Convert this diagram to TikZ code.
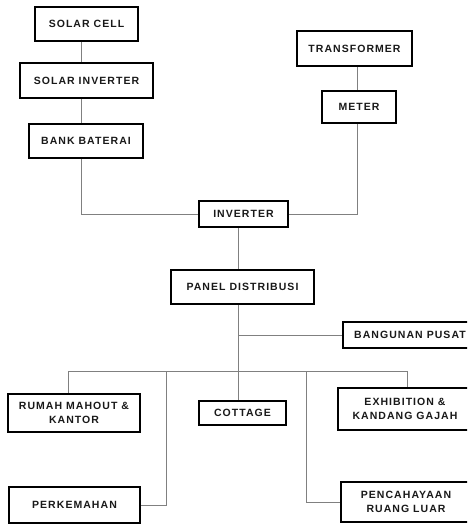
\documentclass[tikz,border=0pt]{standalone}
\usepackage{fontspec}
\newfontfamily\boxfont{Liberation Sans}[LetterSpace=10]
\tikzset{
    unit/.style={draw=black, line width=1.5pt, fill=white, inner sep=0pt, align=center,
        font=\boxfont\bfseries\fontsize{10.5}{14}\selectfont, text=black!90},
    wire/.style={draw=black!50, line width=0.8pt}
}
\begin{document}
\begin{tikzpicture}[x=1pt, y=-1pt]
            \useasboundingbox (0, 0) rectangle (467, 525);
            \clip (0, 0) rectangle (467, 525);
            \fill[white] (0, 0) rectangle (467, 525);

            % wiring points
            \coordinate (lt) at (81, 214);
            \coordinate (rt) at (357, 214);
            \coordinate (mid) at (238, 371);
            \coordinate (bl) at (68, 371);
            \coordinate (br) at (407, 371);
            \coordinate (pl) at (166, 371);
            \coordinate (pr) at (306, 371);

            % supply side
            \node[unit, minimum width=103pt, minimum height=34pt] (sc) at (86.5, 24) {SOLAR CELL};
            \node[unit, minimum width=133pt, minimum height=35pt] (si) at (86.5, 80.5) {SOLAR INVERTER};
            \node[unit, minimum width=114pt, minimum height=34pt] (bb) at (86, 141) {BANK BATERAI};
            \node[unit, minimum width=115pt, minimum height=35pt] (tf) at (354.5, 48.5) {TRANSFORMER};
            \node[unit, minimum width=74pt, minimum height=32pt] (mt) at (359, 107) {METER};
            \node[unit, minimum width=89pt, minimum height=26pt] (inv) at (243.5, 214) {INVERTER};
            \node[unit, minimum width=143pt, minimum height=34pt] (pd) at (242.5, 287) {PANEL DISTRIBUSI};

            % loads
            \node[unit, minimum width=134pt, minimum height=26pt] (bp) at (410, 335) {BANGUNAN PUSAT};
            \node[unit, minimum width=132pt, minimum height=38pt] (rm) at (74, 413) {RUMAH MAHOUT \&\\KANTOR};
            \node[unit, minimum width=87pt, minimum height=24pt] (ct) at (242.5, 413) {COTTAGE};
            \node[unit, minimum width=134pt, minimum height=42pt] (ex) at (405, 409) {EXHIBITION \&\\KANDANG GAJAH};
            \node[unit, minimum width=131pt, minimum height=36pt] (pk) at (74.5, 505) {PERKEMAHAN};
            \node[unit, minimum width=130pt, minimum height=40pt] (pc) at (406, 502) {PENCAHAYAAN\\RUANG LUAR};

            \draw[wire] (sc.south -| lt) -- (si.north -| lt);
            \draw[wire] (si.south -| lt) -- (bb.north -| lt);
            \draw[wire] (bb.south -| lt) -- (lt) -- (inv.west);
            \draw[wire] (tf.south -| rt) -- (mt.north -| rt);
            \draw[wire] (mt.south -| rt) -- (rt) -- (inv.east);
            \draw[wire] (inv.south -| mid) -- (pd.north -| mid);
            \draw[wire] (pd.south -| mid) -- (ct.north -| mid);
            \draw[wire] (mid |- bp.west) -- (bp.west);
            \draw[wire] (bl) -- (br);
            \draw[wire] (bl) -- (rm.north -| bl);
            \draw[wire] (br) -- (ex.north -| br);
            \draw[wire] (pl) |- (pk.east);
            \draw[wire] (pr) |- (pc.west);
        \end{tikzpicture}
\end{document}
